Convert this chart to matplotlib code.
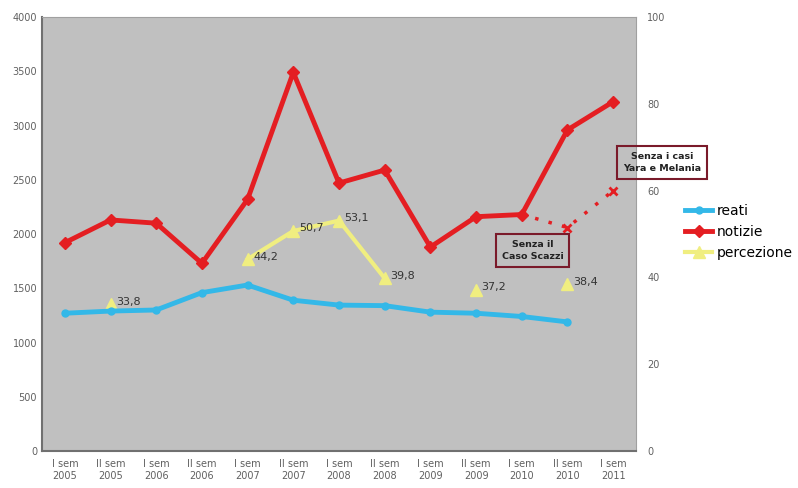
import matplotlib.pyplot as plt
import numpy as np

# categorie (semestri)
semestri = ["I sem\n2005", "II sem\n2005", "I sem\n2006", "II sem\n2006", "I sem\n2007",
            "II sem\n2007", "I sem\n2008", "II sem\n2008", "I sem\n2009", "II sem\n2009",
            "I sem\n2010", "II sem\n2010", "I sem\n2011"]

reati = [1270, 1290, 1300, 1460, 1530, 1390, 1345, 1340, 1280, 1270, 1240, 1190, None]
notizie = [1920, 2130, 2100, 1730, 2320, 3490, 2470, 2590, 1880, 2160, 2180, 2960, 3220]
# senza i casi Scazzi e Yara/Melania
notizie_senza = [None] * 10 + [2180, 2060, 2400]
percezione = [None, 33.8, None, None, 44.2, 50.7, 53.1, 39.8, None, 37.2, None, 38.4, None]


def arr(v):
    return np.array([np.nan if x is None else x for x in v], dtype=float)


x = np.arange(len(semestri))

fig = plt.figure(figsize=(7.98, 4.88), dpi=100)
ax = fig.add_axes([0.0526, 0.0758, 0.7444, 0.8892])

ax.plot(x, arr(reati), color="#33b8e8", lw=3.5, marker="o", ms=5, label="reati", zorder=3)
ax.plot(x, arr(notizie), color="#e41e22", lw=3.5, marker="D", ms=6, label="notizie", zorder=4)
ax.plot(x, arr(notizie_senza), color="#e41e22", lw=2.5, ls=(0, (1, 3)), zorder=4)
ax.plot(x[11:], arr(notizie_senza)[11:], ls="none", marker="x", color="#e41e22", ms=6, mew=2, zorder=4)

ax.set_xlim(-0.5, 12.5)
ax.set_ylim(0, 4000)
ax.set_yticks(np.arange(0, 4001, 500))
ax.set_xticks(x)
ax.set_xticklabels(semestri)
ax.tick_params(axis="both", labelsize=7, colors="#606060", length=0)
ax.tick_params(axis="x", pad=6)
for s in ["top", "right"]:
    ax.spines[s].set_color("#a0a0a0")
for s in ["left", "bottom"]:
    ax.spines[s].set_color("#707070")
    ax.spines[s].set_linewidth(1.5)

ax2 = ax.twinx()
p = arr(percezione)
ax2.plot(x, p, color="#f0ee80", lw=3, marker="^", ms=8, label="percezione", zorder=3)
ax2.set_ylim(0, 100)
ax2.set_yticks(np.arange(0, 101, 20))
ax2.tick_params(axis="y", labelsize=7, colors="#606060", length=0, pad=8)
for s in ax2.spines.values():
    s.set_visible(False)
for xi, v in zip(x, p):
    if not np.isnan(v):
        ax2.text(xi + 0.12, v + 0.6, f"{v:.1f}".replace(".", ","), fontsize=8,
                 color="#333333", va="center", ha="left")

ax.set_zorder(ax2.get_zorder() + 1)
ax.patch.set_visible(False)
ax2.patch.set_visible(True)
ax2.patch.set_facecolor("#c0c0c0")

box = dict(boxstyle="square,pad=0.6", fc="none", ec="#7a1a2a", lw=1.5)
ax.text(13.07, 2660, "Senza i casi\nYara e Melania", fontsize=6.8, fontweight="bold",
        ha="center", va="center", bbox=box, zorder=6, linespacing=1.5, color="#222222")
ax.text(10.24, 1850, "Senza il\nCaso Scazzi", fontsize=6.8, fontweight="bold",
        ha="center", va="center", bbox=box, zorder=6, linespacing=1.5, color="#222222")

h1, l1 = ax.get_legend_handles_labels()
h2, l2 = ax2.get_legend_handles_labels()
fig.legend(h1 + h2, l1 + l2, loc="center left", bbox_to_anchor=(0.858, 0.525),
           frameon=False, fontsize=10, handlelength=2.0, handletextpad=0.3,
           labelspacing=0.5, borderpad=0, borderaxespad=0)

fig.savefig("out.png", dpi=100)
